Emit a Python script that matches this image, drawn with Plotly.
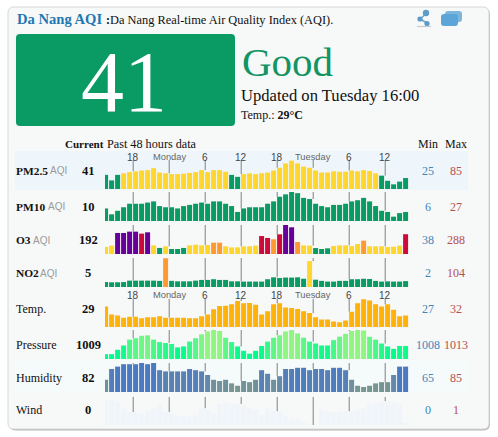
import plotly.graph_objects as go

PM25 = [49,35,49,53,56,58,60,61,66,55,53,51,51,52,54,56,61,56,61,61,57,49,44,51,53,51,53,55,60,67,78,85,78,70,67,60,55,55,58,57,57,60,58,61,59,53,47,34,25,32,41]
PM10 = [13,8,11,14,17,17,17,18,19,15,14,14,13,15,16,17,18,17,19,19,17,15,10,13,14,14,14,17,19,23,25,27,26,22,21,17,15,14,16,16,17,19,20,22,19,15,11,10,6,9,10]
O3 = [59,73,205,205,219,219,198,212,76,49,66,38,38,49,76,83,76,80,104,104,66,55,55,66,66,73,173,153,139,191,288,264,111,76,73,48,38,45,69,76,76,69,90,125,66,66,66,59,62,73,192]
NO2 = [3,2,2,3,9,9,9,9,9,8,104,8,6,6,6,9,12,12,15,12,12,6,6,5,5,5,5,15,23,20,22,22,23,17,92,13,8,5,5,8,8,15,15,17,16,8,5,6,5,5,7]
TEMP = [30.4,28.7,28.5,28.0,28.2,28.2,27.9,28.1,28.1,28.3,28.0,28.0,28.0,28.0,27.9,27.9,28.3,28.7,29.8,30.5,30.6,30.9,31.6,31.1,31.2,30.8,28.7,29.4,30.9,31.1,30.2,30.1,29.9,29.4,29.0,28.1,27.6,27.6,27.2,27.0,27.4,29.3,31.1,32.0,31.7,30.9,30.4,30.9,29.7,28.3,28.5]
PRESSURE = [1008.0,1008.0,1008.9,1009.8,1011.0,1011.3,1011.8,1011.9,1011.0,1010.5,1010.3,1010.1,1009.4,1009.6,1010.6,1011.3,1012.1,1012.7,1013.0,1012.8,1011.4,1010.5,1009.6,1008.7,1008.1,1008.7,1009.7,1010.6,1011.4,1011.9,1012.7,1013.0,1012.3,1011.4,1010.6,1010.2,1009.8,1009.8,1010.9,1011.6,1012.2,1012.8,1013.0,1012.9,1011.6,1011.0,1010.2,1009.6,1009.1,1009.7,1009.7]
HUMIDITY = [71,80,82,84,84,84,85,84,85,79,78,78,78,78,80,79,78,75,71,70,71,68,66,70,69,71,79,76,71,74,80,80,81,81,79,80,80,79,81,81,79,71,66,65,66,68,69,69,75,82,82]
WIND = [.9,.9,.85,.6,.46,.46,.4,.5,.6,.75,.46,.4,.35,.3,.3,.35,.6,.55,.4,.75,.8,.75,.75,.7,.6,.55,.35,.6,.5,.5,.3,.2,.2,.1,0,0,.55,.5,.45,.45,.5,.5,.55,.6,.75,.8,.85,.85,.8,.75,.05]

ROW_NAMES = ["PM2.5","PM10","O3","NO2","Temp.","Pressure","Humidity","Wind"]
CURRENT = ["41","10","192","5","29","1009","82","0"]
MINS = ["25","6","38","2","27","1008","65","0"]
MAXS = ["85","27","288","104","32","1013","85","1"]
TICK_POS = [4.6,10.6,16.6,22.6,28.6,34.6,40.6,46.6]
TICK_LABELS = ["18","Monday","6","12","18","Tuesday","6","12"]

SERIES = [PM25,PM10,O3,NO2,TEMP,PRESSURE,HUMIDITY,WIND]
FLOORS = [13.2,2.3,-14,-18,26,1007,60.8,0]
CEILS = [86.7,27,288,105,32.1,1013,85,1]
ROW_TOPS = [160,192,225,258,298.7,330,363,397]
ROW_BASES = [189,221,254,287,327,359,392,425]
TEXT_Y = [171,207,240,273,309,345,378,410]

W, H = 498, 437
SERIF = "Liberation Serif"
SANS = "Liberation Sans"

def px(x): return x / W
def py(y): return 1 - y / H

def aqi(v):
    if v <= 50: return "#0a9a63"
    if v <= 100: return "#ffd62e"
    if v <= 150: return "#ff9a33"
    if v <= 200: return "#cc0a3c"
    return "#660099"

def mix(a, b, t):
    t = max(0, min(1, t))
    return "rgb(%d,%d,%d)" % tuple(round(a[k] + (b[k] - a[k]) * t) for k in range(3))

def colours(row):
    s = SERIES[row]
    if row < 4: return [aqi(v) for v in s]
    if row == 4: return ["#ffb20a"] * len(s)
    if row == 5: return [mix((5,250,140),(145,245,130),(v-1009.5)/3) for v in s]
    if row == 6: return [mix((122,150,146),(76,122,192),(v-68)/14) for v in s]
    return ["#f0f4fb"] * len(s)

fig = go.Figure()
layout = dict(width=W, height=H, margin=dict(l=0,r=0,t=0,b=0), autosize=False, showlegend=False,
              paper_bgcolor="white", plot_bgcolor="rgba(0,0,0,0)", bargap=0.17, barmode="overlay")
shapes = []
annos = []

def rrect(x0, y0, x1, y1, r):
    X0,X1 = px(x0),px(x1); Y0,Y1 = py(y0),py(y1)
    rx, ry = r/W, r/H
    return (f"M{X0+rx},{Y0} L{X1-rx},{Y0} Q{X1},{Y0} {X1},{Y0-ry} L{X1},{Y1+ry} Q{X1},{Y1} {X1-rx},{Y1} "
            f"L{X0+rx},{Y1} Q{X0},{Y1} {X0},{Y1+ry} L{X0},{Y0-ry} Q{X0},{Y0} {X0+rx},{Y0} Z")

def deco(path, fill, line=None, lw=0):
    shapes.append(dict(type="path", xref="paper", yref="paper", path=path, fillcolor=fill,
                       line=dict(color=line or fill, width=lw), layer="below"))

def box(x0, y0, x1, y1, fill):
    shapes.append(dict(type="rect", xref="paper", yref="paper", x0=px(x0), x1=px(x1), y0=py(y1), y1=py(y0),
                       fillcolor=fill, line=dict(width=0), layer="below"))

def circle(cx, cy, r, fill):
    shapes.append(dict(type="circle", xref="paper", yref="paper", x0=px(cx-r), x1=px(cx+r), y0=py(cy+r), y1=py(cy-r),
                       fillcolor=fill, line=dict(width=0), layer="below"))

def seg(x0, y0, x1, y1, col, w=1.5):
    shapes.append(dict(type="line", xref="paper", yref="paper", x0=px(x0), x1=px(x1), y0=py(y0), y1=py(y1),
                       line=dict(color=col, width=w), layer="below"))

def text(x, y, s, size, color="#111", family=SERIF, anchor="left"):
    annos.append(dict(xref="paper", yref="paper", x=px(x), y=py(y), text=s, showarrow=False, xanchor=anchor, yanchor="middle",
                      font=dict(size=size, color=color, family=family), borderpad=0, borderwidth=0))

# card and shadow
deco(rrect(9, 8, 490, 430.5, 7), "#b4b4b4")
deco(rrect(8, 7, 489, 429, 6), "#f7f8f8", "#d8d8d8", 1)
# row bands
box(15, 151, 468, 190, "#eff6fb")
box(15, 360, 468, 393, "#f5fafb")
# main box
deco(rrect(16, 34, 235, 126, 4), "#0a9a63")

# header icons
seg(417, 26.5, 431, 26.5, "#c8ccd0", 1.2)
seg(427, 13, 420, 19, "#6fa3c8")
seg(420, 19, 427, 23, "#6fa3c8")
circle(426, 13, 3.2, "#5b9cc8")
circle(420, 19, 2.6, "#5b9cc8")
circle(427, 23.5, 2.6, "#5b9cc8")
deco(rrect(445, 11, 462, 22, 3), "#7db6dd")
deco(rrect(441, 14, 458, 26, 3), "#5ba5d8")

# title and headline text
text(16.5, 19, "<b>Da Nang AQI</b>", 14.6, "#1f78b4")
text(106, 20, "<b>:</b>", 12, "#111")
text(110, 20, "Da Nang Real-time Air Quality Index (AQI).", 12.4, "#111")
text(124, 82, "41", 86, "white", anchor="center")
text(242, 62, "Good", 41, "#129463")
text(241, 95.5, "Updated on Tuesday 16:00", 16.6, "#111")
text(241, 115, "Temp.: <b>29°C</b>", 12, "#111")
text(65, 144, "<b>Current</b>", 11, "#111")
text(107, 144, "Past 48 hours data", 12.2, "#111")
text(428, 144, "Min", 12, "#111", anchor="center")
text(456, 144, "Max", 12, "#111", anchor="center")

AQI_X = [50, 48, 33, 40]
for r, name in enumerate(ROW_NAMES):
    axis = "" if r == 0 else str(r + 1)
    layout[f"xaxis{axis}"] = dict(domain=[px(105), px(409)], range=[-0.1, 50.567], visible=False, fixedrange=True,
                                  anchor=f"y{axis}")
    layout[f"yaxis{axis}"] = dict(domain=[py(ROW_BASES[r]), py(ROW_TOPS[r])], range=[FLOORS[r], CEILS[r]], visible=False,
                                  fixedrange=True, anchor=f"x{axis}")
    vals = SERIES[r]
    fig.add_trace(go.Bar(x=list(range(len(vals))), y=[v - FLOORS[r] for v in vals], base=FLOORS[r], width=5/6,
                         marker=dict(color=colours(r), line=dict(width=0)), hoverinfo="skip",
                         xaxis=f"x{axis}", yaxis=f"y{axis}"))
    for t in TICK_POS:
        i = int(t)
        shapes.append(dict(type="line", xref=f"x{axis}", yref=f"y{axis}", x0=t, x1=t, y0=CEILS[r],
                           y1=max(vals[i], vals[i + 1]), line=dict(color="#808080", width=1), layer="below"))
    bold = r < 4
    text(16, TEXT_Y[r], f"<b>{name}</b>" if bold else name, 11.4 if bold else 12, "#111")
    if r < 4:
        text(AQI_X[r], TEXT_Y[r], "AQI", 10, "#9a9a9a", family=SANS)
    text(88, TEXT_Y[r], f"<b>{CURRENT[r]}</b>", 12.5, "#111", anchor="center")
    text(428, TEXT_Y[r], MINS[r], 12, "#3d86b8", anchor="center")
    text(456, TEXT_Y[r], MAXS[r], 12, "#b55050", anchor="center")

for t, lab in zip(TICK_POS, TICK_LABELS):
    wide = len(lab) > 2
    for y in (157, 295):
        annos.append(dict(xref="x", yref="paper", x=t, y=py(y), text=lab, showarrow=False, xanchor="center", yanchor="middle",
                          font=dict(size=9.3 if wide else 10, color="#666" if wide else "#444", family=SANS)))

layout["shapes"] = shapes
layout["annotations"] = annos
fig.update_layout(**layout)
fig.write_html("out.html", config=dict(displayModeBar=False, responsive=False),
               post_script="document.body.style.margin='0';document.body.style.overflow='hidden';")
